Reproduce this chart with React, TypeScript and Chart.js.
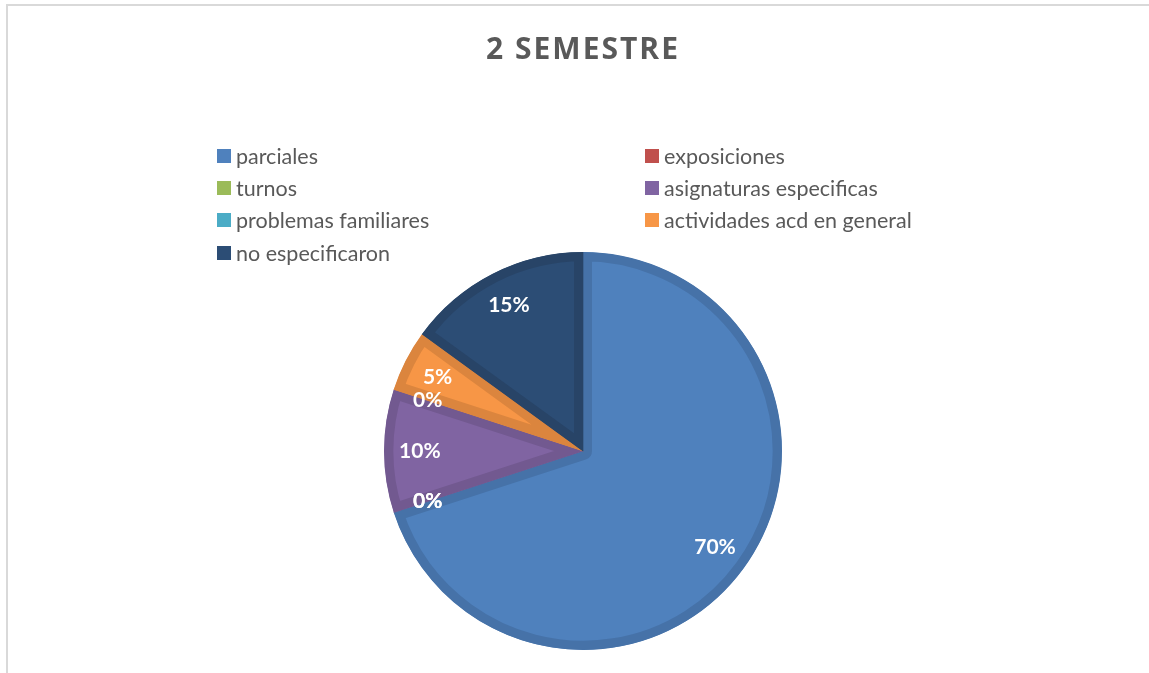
import React, { useEffect, useRef } from "react";
import { Chart, registerables } from "chart.js";

Chart.register(...registerables);

const TITLE = "2 SEMESTRE";
const categories = [
  "parciales",
  "exposiciones",
  "turnos",
  "asignaturas especificas",
  "problemas familiares",
  "actividades acd en general",
  "no especificaron",
];
const values = [70, 0, 0, 10, 0, 5, 15];
const percentLabels = ["70%", "0%", "0%", "10%", "0%", "5%", "15%"];
const fillColors = ["#4F81BD", "#C0504D", "#9BBB59", "#8064A2", "#4BACC6", "#F79646", "#2C4D75"];
const edgeColors = ["#4672A8", "#AA4744", "#89A64F", "#725990", "#4298AF", "#DB853E", "#284467"];

const overlayPlugin = {
  id: "overlay",
  afterDraw(chart: any) {
    const ctx = chart.ctx;
    ctx.save();
    // title
    ctx.fillStyle = "#595959";
    ctx.font = "bold 30px 'Open Sans'";
    ctx.textAlign = "center";
    ctx.textBaseline = "middle";
    try { (ctx as any).letterSpacing = "2px"; } catch (e) {}
    ctx.fillText(TITLE, 583, 50);
    try { (ctx as any).letterSpacing = "0px"; } catch (e) {}

    // legend (two columns)
    const colX = [217, 645];
    const rowY = [156, 188, 220, 253];
    ctx.font = "21.5px Lato";
    ctx.textAlign = "left";
    categories.forEach((name, i) => {
      const x = colX[i % 2];
      const y = rowY[Math.floor(i / 2)];
      ctx.fillStyle = fillColors[i];
      ctx.fillRect(x, y - 7, 14, 14);
      ctx.fillStyle = "#595959";
      ctx.fillText(name, x + 19, y + 1);
    });

    // data labels
    const meta = chart.getDatasetMeta(0);
    ctx.font = "bold 21px Lato";
    ctx.textAlign = "center";
    ctx.fillStyle = "#FFFFFF";
    meta.data.forEach((arc: any, i: number) => {
      const { x, y, startAngle, endAngle, outerRadius } = arc.getProps(
        ["x", "y", "startAngle", "endAngle", "outerRadius"],
        true
      );
      const mid = (startAngle + endAngle) / 2;
      const r = outerRadius * 0.82;
      ctx.fillText(percentLabels[i], x + Math.cos(mid) * r, y + Math.sin(mid) * r);
    });
    ctx.restore();
  },
};

export default function App() {
  const ref = useRef<HTMLCanvasElement | null>(null);
  useEffect(() => {
    if (!ref.current) return;
    const chart = new Chart(ref.current, {
      type: "pie",
      data: {
        labels: categories,
        datasets: [
          {
            data: values,
            backgroundColor: fillColors,
            borderColor: edgeColors,
            borderWidth: 9,
            borderAlign: "inner",
          } as any,
        ],
      },
      options: {
        animation: false,
        responsive: false,
        layout: { padding: { top: 252, bottom: 23, left: 384, right: 367 } },
        plugins: {
          legend: { display: false },
          title: { display: false },
          tooltip: { enabled: false },
        },
      },
      plugins: [overlayPlugin],
    });
    return () => chart.destroy();
  }, []);
  return (
    <div style={{ position: "absolute", left: 0, top: 0, width: 1149, height: 673, overflow: "hidden", background: "#fff" }}>
      <div
        style={{
          position: "absolute",
          left: 6,
          top: 4,
          width: 1200,
          height: 720,
          border: "2px solid #D9D9D9",
          boxSizing: "border-box",
        }}
      />
      <canvas ref={ref} width={1149} height={673} style={{ position: "absolute", left: 0, top: 0, width: 1149, height: 673 }} />
    </div>
  );
}
